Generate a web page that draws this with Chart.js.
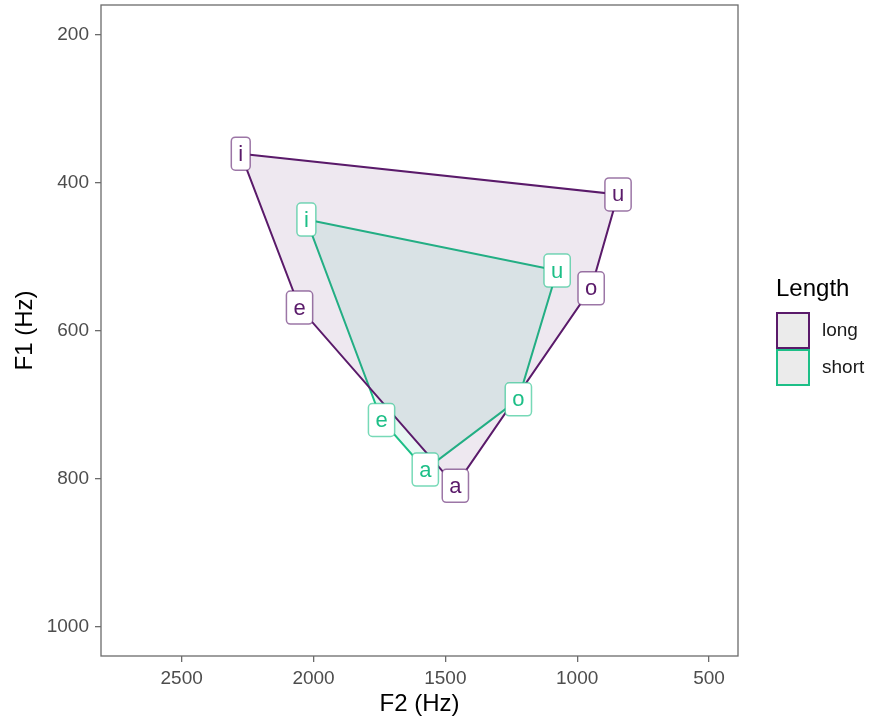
<!DOCTYPE html>
<html>
<head>
<meta charset="utf-8">
<script src="https://cdn.jsdelivr.net/npm/chart.js@4"></script>
<style>
    html, body { margin: 0; padding: 0; background: #fff; }
    #wrap { width: 875px; height: 720px; }
</style>
</head>
<body>
<div id="wrap"><canvas id="mychart" width="875" height="720"></canvas></div>
<script>
// vowel formants
const vowels = ['i', 'u', 'o', 'a', 'e'];
const longF2 = [2276, 845, 947, 1462, 2053];
const longF1 = [361, 416, 543, 810, 569];
const shortF2 = [2027, 1076, 1223, 1576, 1742];
const shortF1 = [450, 519, 693, 788, 721];
const groups = ['long', 'short'];
const xTicks = [500, 1000, 1500, 2000, 2500];
const yTicks = [200, 400, 600, 800, 1000];

const FONT = '"Liberation Sans", Arial, Helvetica, sans-serif';
const purple = '#5a1a6a';
const green = '#1dbf87';

// closed loop for the polygon
function loop(f2, f1) {
    let pts = f2.map((v, i) => ({ x: v, y: f1[i] }));
    pts.push(pts[0]);
    return pts;
}

function roundRect(ctx, x, y, w, h, r) {
    ctx.beginPath();
    ctx.moveTo(x + r, y);
    ctx.lineTo(x + w - r, y);
    ctx.arcTo(x + w, y, x + w, y + r, r);
    ctx.lineTo(x + w, y + h - r);
    ctx.arcTo(x + w, y + h, x + w - r, y + h, r);
    ctx.lineTo(x + r, y + h);
    ctx.arcTo(x, y + h, x, y + h - r, r);
    ctx.lineTo(x, y + r);
    ctx.arcTo(x, y, x + r, y, r);
    ctx.closePath();
}

// panel border + vowel labels + legend
const labelPlugin = {
    id: 'vowelLabels',
    afterDatasetsDraw(chart) {
        const ctx = chart.ctx;
        const a = chart.chartArea;
        ctx.save();
        ctx.strokeStyle = '#6b6b6b';
        ctx.lineWidth = 1.3;
        ctx.strokeRect(a.left, a.top, a.right - a.left, a.bottom - a.top);

        ctx.font = '22px ' + FONT;
        ctx.textAlign = 'center';
        ctx.textBaseline = 'middle';
        chart.data.datasets.forEach((ds, di) => {
            const meta = chart.getDatasetMeta(di);
            vowels.forEach((v, i) => {
                const p = meta.data[i];
                const w = ctx.measureText(v).width + 14;
                const h = 33;
                roundRect(ctx, p.x - w / 2, p.y - h / 2, w, h, 4);
                ctx.fillStyle = '#fff';
                ctx.fill();
                ctx.lineWidth = 1.5;
                ctx.strokeStyle = ds.labelBorder;
                ctx.stroke();
                ctx.fillStyle = ds.borderColor;
                ctx.fillText(v, p.x, p.y + 1);
            });
        });
        ctx.restore();
    },
    afterDraw(chart) {
        const ctx = chart.ctx;
        ctx.save();
        ctx.fillStyle = '#000';
        ctx.font = '24px ' + FONT;
        ctx.textAlign = 'left';
        ctx.textBaseline = 'middle';
        ctx.fillText('Length', 776, 289);
        chart.data.datasets.forEach((ds, di) => {
            const top = 313 + di * 37;
            ctx.fillStyle = '#ebebeb';
            ctx.fillRect(777, top, 32, 35);
            ctx.strokeStyle = ds.borderColor;
            ctx.lineWidth = 2;
            ctx.strokeRect(777, top, 32, 35);
            ctx.fillStyle = '#1a1a1a';
            ctx.font = '19px ' + FONT;
            ctx.fillText(groups[di], 822, top + 18);
        });
        ctx.restore();
    }
};

let ctx = document.getElementById('mychart');
let myChart = new Chart(ctx, {
    type: 'scatter',
    data: {
        datasets: [{
            label: groups[0],
            data: loop(longF2, longF1),
            showLine: true,
            borderColor: purple,
            labelBorder: 'rgba(90,26,106,0.6)',
            backgroundColor: 'rgba(90,26,106,0.1)',
            borderWidth: 2,
            pointRadius: 0,
            fill: 'shape',
            tension: 0,
        }, {
            label: groups[1],
            data: loop(shortF2, shortF1),
            showLine: true,
            borderColor: green,
            labelBorder: 'rgba(29,191,135,0.6)',
            backgroundColor: 'rgba(29,191,135,0.1)',
            borderWidth: 2,
            pointRadius: 0,
            fill: 'shape',
            tension: 0,
        }],
    },
    options: {
        responsive: false,
        animation: false,
        layout: { padding: { top: 5, right: 137, left: 0, bottom: 0 } },
        plugins: {
            legend: { display: false },
            tooltip: { enabled: false },
        },
        scales: {
            x: {
                type: 'linear',
                reverse: true,
                min: 390,
                max: 2806,
                afterBuildTicks: s => { s.ticks = xTicks.map(v => ({ value: v })); },
                afterFit: s => { s.height = 64; s.paddingLeft = 0; s.paddingRight = 0; },
                grid: { drawOnChartArea: false, tickLength: 6, color: '#6b6b6b', lineWidth: 1.3 },
                border: { display: false },
                ticks: { color: '#4d4d4d', font: { family: FONT, size: 19 }, padding: 5, maxRotation: 0, callback: v => String(v) },
                title: { display: true, text: 'F2 (Hz)', color: '#000', font: { family: FONT, size: 24 }, padding: { top: 0, bottom: 1 } },
            },
            y: {
                type: 'linear',
                reverse: true,
                min: 160,
                max: 1040,
                afterBuildTicks: s => { s.ticks = yTicks.map(v => ({ value: v })); },
                afterFit: s => { s.width = 101; s.paddingTop = 0; s.paddingBottom = 0; },
                grid: { drawOnChartArea: false, tickLength: 6, color: '#6b6b6b', lineWidth: 1.3 },
                border: { display: false },
                ticks: { color: '#4d4d4d', font: { family: FONT, size: 19 }, padding: 6, callback: v => String(v) },
                title: { display: true, text: 'F1 (Hz)', color: '#000', font: { family: FONT, size: 24 }, padding: { top: 11, bottom: 0 } },
            },
        },
    },
    plugins: [labelPlugin],
});
</script>
</body>
</html>
